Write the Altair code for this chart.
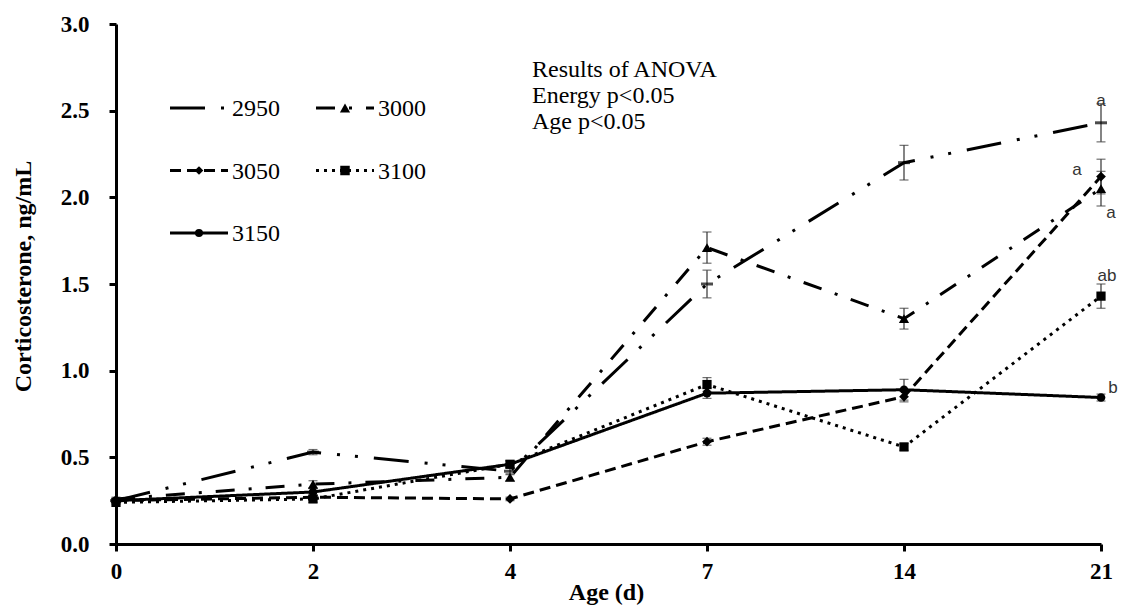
import altair as alt
import pandas as pd

# ---- data ----
days = ["0", "2", "4", "7", "14", "21"]
series = ["2950", "3000", "3050", "3100", "3150"]

v2950 = [0.25, 0.53, 0.42, 1.50, 2.20, 2.43]
v3000 = [0.26, 0.345, 0.385, 1.71, 1.30, 2.05]
v3050 = [0.25, 0.27, 0.26, 0.59, 0.85, 2.12]
v3100 = [0.24, 0.26, 0.46, 0.92, 0.56, 1.43]
v3150 = [0.25, 0.30, 0.46, 0.87, 0.89, 0.845]

e2950 = [0.01, 0.015, 0.02, 0.08, 0.10, 0.11]
e3000 = [0.01, 0.02, 0.02, 0.09, 0.06, 0.10]
e3050 = [0.01, 0.01, 0.01, 0.02, 0.03, 0.10]
e3100 = [0.01, 0.02, 0.02, 0.04, 0.02, 0.07]
e3150 = [0.01, 0.02, 0.02, 0.03, 0.06, 0.02]

sig_letters = ["a", "a", "a", "ab", "b"]  # at day 21, per series

anova_lines = ["Results of ANOVA", "Energy p<0.05", "Age p<0.05"]

values = {"2950": v2950, "3000": v3000, "3050": v3050, "3100": v3100, "3150": v3150}
errors = {"2950": e2950, "3000": e3000, "3050": e3050, "3100": e3100, "3150": e3150}

rows = []
for s in series:
    for d, v, e in zip(days, values[s], errors[s]):
        rows.append({"series": s, "day": d, "value": v, "lo": v - e, "hi": v + e})
df = pd.DataFrame(rows)

# ---- styles ----
dashes = {
    "2950": [35, 16, 3, 15, 3, 16],
    "3000": [19, 14, 3, 14],
    "3050": [11, 6],
    "3100": [3, 5],
    "3150": [1, 0],
}
shapes = {"3000": "triangle-up", "3050": "diamond", "3100": "square", "3150": "circle"}
sizes = {"3000": 105, "3050": 75, "3100": 90, "3150": 65}

SERIF = "Liberation Serif"

x_enc = alt.X("day:O", sort=days, scale=alt.Scale(type="point", padding=0, domain=days),
              axis=alt.Axis(labelAngle=0, labelPadding=9, title="Age (d)",
                            titleX=490, titleY=48, titleBaseline="middle", titleAlign="center"))
y_enc = alt.Y("value:Q", scale=alt.Scale(domain=[0, 3], nice=False),
              axis=alt.Axis(values=[0, 0.5, 1.0, 1.5, 2.0, 2.5, 3.0], format=".1f",
                            labelPadding=20, title="Corticosterone, ng/mL",
                            titleX=-93, titleY=252, titleAngle=-90,
                            titleBaseline="middle", titleAlign="center"))

base = alt.Chart(df)

err_rule = base.mark_rule(color="#333", strokeWidth=1.2).encode(
    x=x_enc, y="lo:Q", y2="hi:Q")
err_lo = base.mark_tick(color="#333", thickness=1.2, size=9).encode(x=x_enc, y="lo:Q")
err_hi = base.mark_tick(color="#333", thickness=1.2, size=9).encode(x=x_enc, y="hi:Q")

lines = base.mark_line(color="black", strokeWidth=3).encode(
    x=x_enc, y=y_enc,
    detail="series:N",
    strokeDash=alt.StrokeDash("series:N", scale=alt.Scale(domain=series, range=[dashes[s] for s in series]),
                              legend=None),
)

pts = base.transform_filter(alt.datum.series != "2950").mark_point(
    filled=True, color="black", opacity=1).encode(
    x=x_enc, y="value:Q",
    shape=alt.Shape("series:N", scale=alt.Scale(domain=series[1:], range=[shapes[s] for s in series[1:]]),
                    legend=None),
    size=alt.Size("series:N", scale=alt.Scale(domain=series[1:], range=[sizes[s] for s in series[1:]]),
                  legend=None),
)

dash_marker = base.transform_filter(alt.datum.series == "2950").mark_tick(
    color="black", thickness=3, size=12).encode(x=x_enc, y="value:Q")

layers = [err_rule, err_lo, err_hi, lines, pts, dash_marker]

# significance letters at day 21 (offsets are styling)
letter_offsets = {"2950": (0, -22), "3000": (10, 24), "3050": (-24, -7), "3100": (6, -20), "3150": (12, -10)}
last = df[df["day"] == "21"].copy()
last["letter"] = [sig_letters[series.index(s)] for s in last["series"]]
for s in series:
    dx, dy = letter_offsets[s]
    layers.append(
        alt.Chart(last[last["series"] == s]).mark_text(
            font="Liberation Sans", fontSize=17, color="#333", dx=dx, dy=dy,
            align="center", baseline="middle").encode(
            x=alt.X("day:O", sort=days), y="value:Q", text="letter:N"))

# manual legend inside the plot area
one = pd.DataFrame({"k": [0]})
for i, s in enumerate(series):
    col, row = i % 2, i // 2
    x0 = 54 + col * 146
    y0 = 84 + row * 62.5
    layers.append(alt.Chart(one).mark_rule(color="black", strokeWidth=3, strokeDash=dashes[s]).encode(
        x=alt.value(x0), x2=alt.value(x0 + 58), y=alt.value(y0)))
    if s in shapes:
        layers.append(alt.Chart(one).mark_point(shape=shapes[s], filled=True, color="black",
                                                opacity=1, size=sizes[s]).encode(
            x=alt.value(x0 + 29), y=alt.value(y0)))
    layers.append(alt.Chart(one).mark_text(font=SERIF, fontSize=24, color="black",
                                           align="left", baseline="middle").encode(
        x=alt.value(x0 + 62), y=alt.value(y0 + 1), text=alt.value(s)))

# ANOVA annotation
for j, t in enumerate(anova_lines):
    layers.append(alt.Chart(one).mark_text(font=SERIF, fontSize=24, color="black",
                                           align="left", baseline="alphabetic").encode(
        x=alt.value(416), y=alt.value(53 + j * 26), text=alt.value(t)))

chart = alt.layer(*layers).properties(
    width=985, height=520,
    autosize=alt.AutoSizeParams(type="none"),
    padding={"left": 108, "top": 16, "right": 17, "bottom": 61},
).configure_view(stroke=None).configure_axis(
    grid=False, domainColor="black", domainWidth=3, tickColor="black", tickWidth=3, tickSize=7,
    labelFont=SERIF, labelFontWeight="bold", labelFontSize=23, labelColor="black",
    titleFont=SERIF, titleFontWeight="bold", titleFontSize=24, titleColor="black",
)

chart.save("out.html", embed_options={"renderer": "svg", "actions": False})
